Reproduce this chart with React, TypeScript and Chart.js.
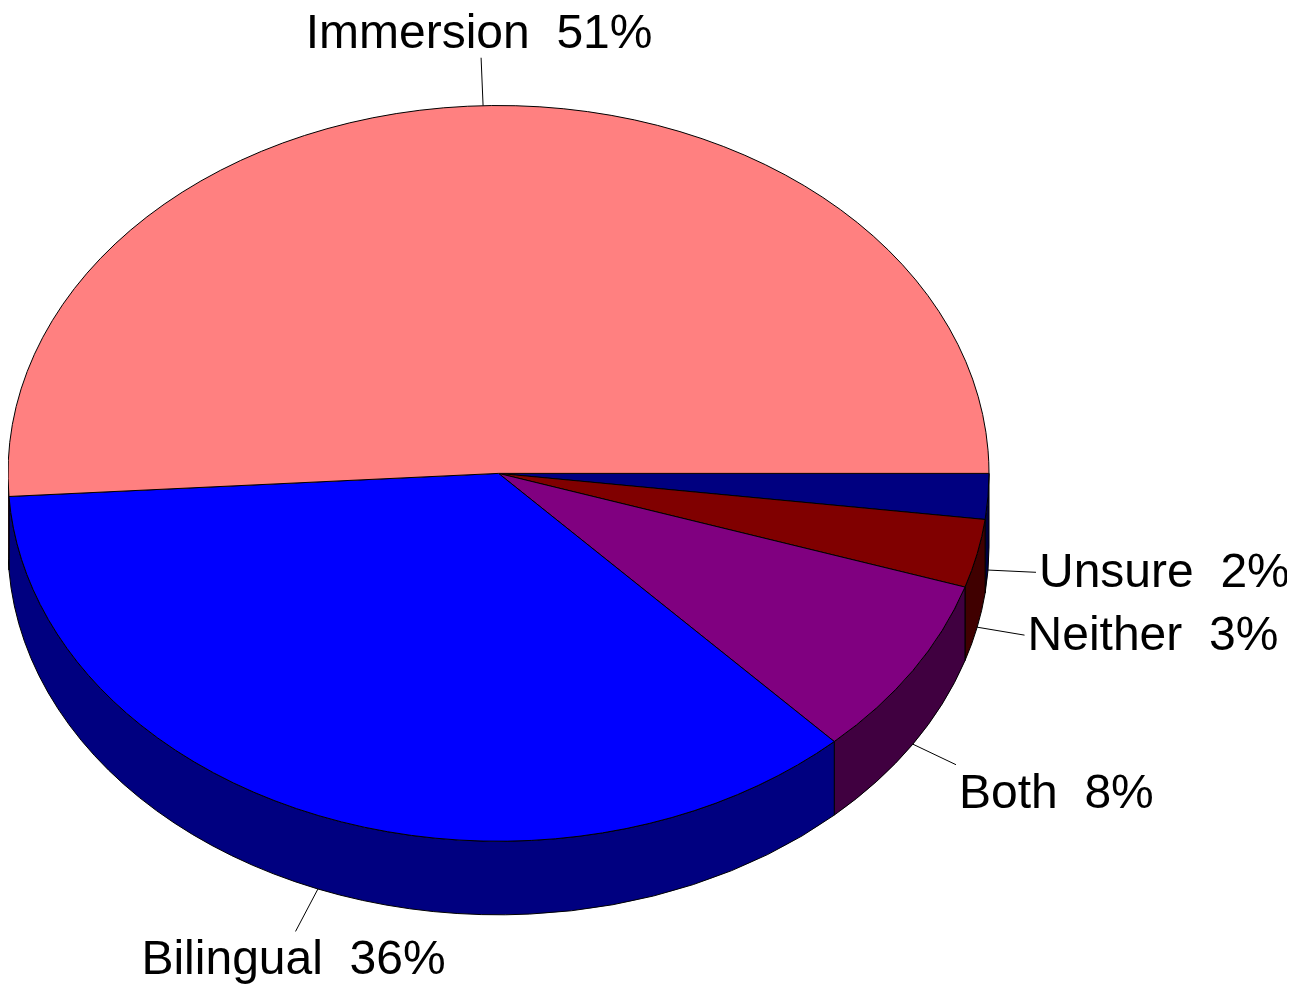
import React, { useEffect, useRef } from "react";
import { Chart, registerables } from "chart.js";

Chart.register(...registerables);

// Data (clockwise from 3 o'clock)
const labels = ["Unsure", "Neither", "Both", "Bilingual", "Immersion"];
const values = [2, 3, 8, 36, 51];
const topColors = ["#000080", "#800000", "#800080", "#0000FF", "#FF8080"];
const sideColors = ["#000040", "#400000", "#400040", "#000080", "#804040"];

// Style constants
const TILT = 0.75; // ry / rx
const DEPTH = 0.15; // depth / rx
const LEADER = 48;
const FONT = '48px "Liberation Sans", Arial, sans-serif';

const pie3d = {
  id: "pie3d",
  beforeDatasetsDraw(chart: any) {
    const ctx = chart.ctx as CanvasRenderingContext2D;
    const area = chart.chartArea;
    const meta = chart.getDatasetMeta(0);
    const rx = (area.right - area.left) / 2;
    const ry = rx * TILT;
    const depth = rx * DEPTH;
    const cx = meta.data[0].x;
    const cy = area.top + ry;
    const total = values.reduce((a, b) => a + b, 0);

    ctx.save();
    ctx.lineWidth = 1;
    ctx.strokeStyle = "#000";
    ctx.lineJoin = "round";

    const arcs = meta.data.map((arc: any) => arc.getProps(["startAngle", "endAngle"], true));

    // Side walls (front half only)
    arcs.forEach((p: any, i: number) => {
      const a = Math.max(p.startAngle, 0);
      const b = Math.min(p.endAngle, Math.PI);
      if (b <= a) return;
      ctx.beginPath();
      ctx.ellipse(cx, cy, rx, ry, 0, a, b, false);
      ctx.lineTo(cx + rx * Math.cos(b), cy + depth + ry * Math.sin(b));
      ctx.ellipse(cx, cy + depth, rx, ry, 0, b, a, true);
      ctx.closePath();
      ctx.fillStyle = sideColors[i];
      ctx.fill();
      ctx.stroke();
    });

    // Top faces
    arcs.forEach((p: any, i: number) => {
      ctx.beginPath();
      ctx.moveTo(cx, cy);
      ctx.ellipse(cx, cy, rx, ry, 0, p.startAngle, p.endAngle, false);
      ctx.closePath();
      ctx.fillStyle = topColors[i];
      ctx.fill();
      ctx.stroke();
    });

    // Leader lines and labels
    ctx.font = FONT;
    ctx.fillStyle = "#000";
    arcs.forEach((p: any, i: number) => {
      const mid = (p.startAngle + p.endAngle) / 2;
      const c = Math.cos(mid);
      const s = Math.sin(mid);
      const px = cx + rx * c;
      const py = cy + ry * s + (s > 0 ? depth : 0);
      const vx = rx * c;
      const vy = ry * s;
      const len = Math.hypot(vx, vy);
      const dx = vx / len;
      const dy = vy / len;
      const ex = px + LEADER * dx;
      const ey = py + LEADER * dy;
      ctx.beginPath();
      ctx.moveTo(px, py);
      ctx.lineTo(ex, ey);
      ctx.stroke();

      const pct = Math.round((values[i] / total) * 100);
      const txt = `${labels[i]}  ${pct}%`;
      let tx: number;
      if (Math.abs(dx) < 0.5) {
        ctx.textAlign = "center";
        tx = ex - 2;
      } else if (dx > 0) {
        ctx.textAlign = "left";
        tx = ex + 3;
      } else {
        ctx.textAlign = "right";
        tx = ex - 3;
      }
      let ty: number;
      if (dy > 0.3) ty = ey + 43;
      else if (dy < -0.3) ty = ey - 10;
      else ty = ey + 15;
      ctx.textBaseline = "alphabetic";
      ctx.fillText(txt, tx, ty);
    });

    ctx.restore();
    return false;
  },
};

export default function App() {
  const ref = useRef<HTMLCanvasElement | null>(null);
  useEffect(() => {
    if (!ref.current) return;
    const chart = new Chart(ref.current, {
      type: "pie",
      data: {
        labels,
        datasets: [
          {
            data: values,
            backgroundColor: topColors,
            borderColor: "#000",
            borderWidth: 1,
          },
        ],
      },
      options: {
        animation: false,
        responsive: true,
        maintainAspectRatio: false,
        rotation: 90,
        events: [],
        layout: { padding: { left: 0, right: 298, top: 97.5, bottom: 60 } },
        plugins: {
          legend: { display: false },
          tooltip: { enabled: false },
        },
      },
      plugins: [pie3d],
    });
    return () => chart.destroy();
  }, []);
  return (
    <div style={{ width: 1279, height: 976, position: "relative" }}>
      <canvas ref={ref} />
    </div>
  );
}
